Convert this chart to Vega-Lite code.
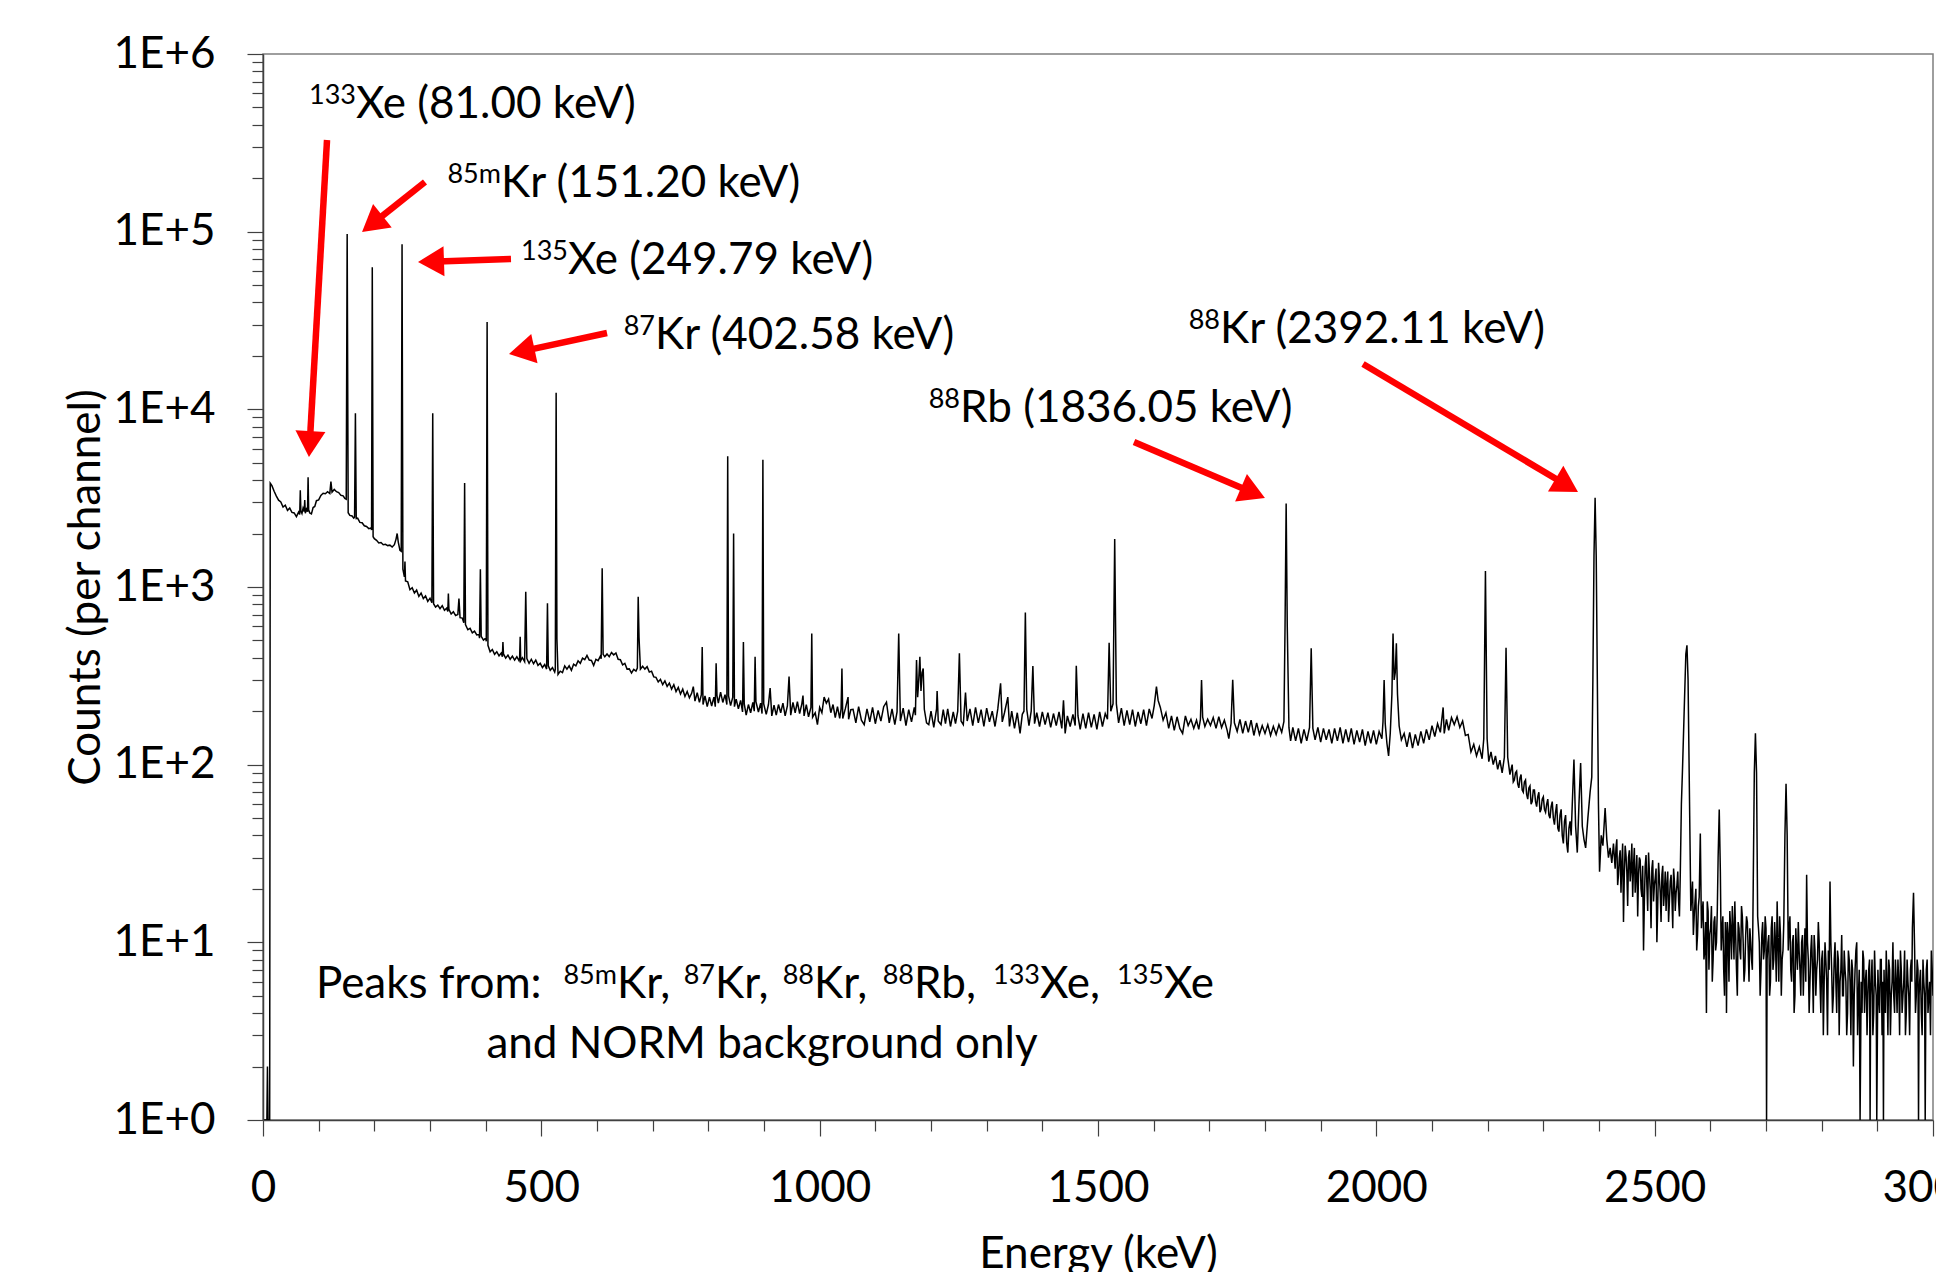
{
"$schema":"https://vega.github.io/schema/vega-lite/v6.json",
"width":1670,"height":1066,
"autosize":{"type":"none"},
"padding":{"left":263,"top":54,"right":3,"bottom":152},
"background":"white",
"config":{"view":{"stroke":"#7f7f7f","strokeWidth":1.5},"font":"Lato",
"axis":{"grid":false,"labelFont":"Lato","titleFont":"Lato","labelFontSize":44,"titleFontSize":44,"titleFontWeight":"normal","labelColor":"black","titleColor":"black","domainColor":"#404040","tickColor":"#404040","domainWidth":1.5,"tickWidth":1.2,"labelOverlap":false,"labelFlush":false}},
"resolve":{"axis":{"x":"independent","y":"independent"}},
"datasets":{
"spectrum":[
{"e":2,"c":1},{"e":7,"c":1},{"e":8,"c":2},{"e":9,"c":1},{"e":12,"c":1},{"e":13,"c":3840},
{"e":16,"c":3720},{"e":20,"c":3460},{"e":24,"c":3250},{"e":28,"c":3080},{"e":32,"c":3010},{"e":36,"c":2820},{"e":40,"c":2890},{"e":44,"c":2700},{"e":48,"c":2780},{"e":52,"c":2630},{"e":56,"c":2610},{"e":60,"c":2490},{"e":64,"c":2640},{"e":66,"c":2560},{"e":67,"c":3500},{"e":68,"c":2680},{"e":70,"c":2590},{"e":72,"c":2780},{"e":74,"c":2660},{"e":75,"c":3090},{"e":76,"c":2600},{"e":78,"c":2740},{"e":80,"c":2650},{"e":81,"c":4140},{"e":82,"c":2720},{"e":84,"c":2610},{"e":87,"c":2580},{"e":90,"c":2800},{"e":93,"c":2840},{"e":96,"c":3060},{"e":100,"c":3090},{"e":104,"c":3280},{"e":108,"c":3370},{"e":112,"c":3350},{"e":116,"c":3440},{"e":120,"c":3360},{"e":122,"c":3920},{"e":124,"c":3420},{"e":128,"c":3540},{"e":132,"c":3440},{"e":136,"c":3400},{"e":140,"c":3280},{"e":144,"c":3260},{"e":147,"c":3150},{"e":149.5,"c":3120},{"e":151.2,"c":97000},{"e":153,"c":2620},{"e":156,"c":2530},{"e":160,"c":2510},{"e":163,"c":2440},{"e":164.5,"c":2470},{"e":166,"c":9500},{"e":167.5,"c":2430},{"e":170,"c":2440},{"e":174,"c":2310},{"e":178,"c":2300},{"e":182,"c":2210},{"e":186,"c":2190},{"e":190,"c":2130},{"e":194,"c":2150},{"e":195,"c":2090},{"e":196.3,"c":63000},{"e":197.8,"c":1920},{"e":200,"c":1870},{"e":204,"c":1830},{"e":208,"c":1770},{"e":212,"c":1780},{"e":216,"c":1730},{"e":220,"c":1740},{"e":224,"c":1710},{"e":228,"c":1720},{"e":232,"c":1680},{"e":236,"c":1730},{"e":239,"c":1860},{"e":241,"c":2000},{"e":243,"c":1790},{"e":246,"c":1610},{"e":248.3,"c":1590},{"e":249.8,"c":85000},{"e":251.3,"c":1260},{"e":254,"c":1140},{"e":255,"c":1390},{"e":256,"c":1080},{"e":260,"c":1070},{"e":264,"c":965},{"e":268,"c":990},{"e":272,"c":925},{"e":276,"c":960},{"e":280,"c":885},{"e":284,"c":925},{"e":288,"c":860},{"e":292,"c":890},{"e":296,"c":830},{"e":300,"c":865},{"e":303.4,"c":815},{"e":304.9,"c":9500},{"e":306.4,"c":805},{"e":310,"c":770},{"e":314,"c":790},{"e":318,"c":755},{"e":322,"c":785},{"e":326,"c":740},{"e":330,"c":760},{"e":332,"c":728},{"e":333,"c":920},{"e":334,"c":748},{"e":338,"c":705},{"e":342,"c":725},{"e":346,"c":690},{"e":350,"c":700},{"e":352,"c":860},{"e":354,"c":672},{"e":358,"c":668},{"e":360.7,"c":630},{"e":362.2,"c":3850},{"e":363.7,"c":615},{"e":368,"c":575},{"e":372,"c":585},{"e":376,"c":552},{"e":380,"c":565},{"e":384,"c":538},{"e":388,"c":540},{"e":389,"c":515},{"e":390.5,"c":1260},{"e":392,"c":528},{"e":396,"c":502},{"e":400,"c":515},{"e":401.1,"c":495},{"e":402.6,"c":31000},{"e":404.1,"c":470},{"e":408,"c":432},{"e":412,"c":445},{"e":416,"c":418},{"e":420,"c":432},{"e":424,"c":410},{"e":428,"c":425},{"e":430,"c":405},{"e":431,"c":490},{"e":432,"c":420},{"e":436,"c":398},{"e":440,"c":414},{"e":444,"c":392},{"e":448,"c":408},{"e":452,"c":388},{"e":456,"c":405},{"e":460,"c":384},{"e":461,"c":400},{"e":462,"c":525},{"e":463,"c":385},{"e":466,"c":400},{"e":470,"c":380},{"e":472,"c":940},{"e":474,"c":395},{"e":478,"c":372},{"e":482,"c":392},{"e":486,"c":370},{"e":490,"c":388},{"e":494,"c":362},{"e":498,"c":372},{"e":502,"c":352},{"e":506,"c":366},{"e":509.5,"c":345},{"e":511,"c":810},{"e":512.5,"c":360},{"e":516,"c":340},{"e":520,"c":352},{"e":524,"c":332},{"e":525.1,"c":345},{"e":526.6,"c":12400},{"e":528,"c":510},{"e":530,"c":322},{"e":534,"c":336},{"e":538,"c":330},{"e":542,"c":360},{"e":546,"c":345},{"e":550,"c":360},{"e":554,"c":340},{"e":558,"c":368},{"e":562,"c":360},{"e":566,"c":384},{"e":570,"c":372},{"e":574,"c":398},{"e":578,"c":390},{"e":582,"c":412},{"e":586,"c":388},{"e":590,"c":386},{"e":594,"c":362},{"e":598,"c":392},{"e":602,"c":385},{"e":606,"c":408},{"e":607.5,"c":395},{"e":609.3,"c":1275},{"e":611,"c":418},{"e":614,"c":405},{"e":618,"c":420},{"e":622,"c":405},{"e":626,"c":428},{"e":630,"c":415},{"e":634,"c":425},{"e":638,"c":392},{"e":642,"c":390},{"e":646,"c":365},{"e":650,"c":372},{"e":654,"c":345},{"e":658,"c":346},{"e":662,"c":328},{"e":666,"c":344},{"e":670,"c":336},{"e":672.5,"c":350},{"e":674,"c":880},{"e":675.5,"c":520},{"e":678,"c":345},{"e":682,"c":358},{"e":686,"c":345},{"e":690,"c":356},{"e":694,"c":332},{"e":698,"c":336},{"e":702,"c":312},{"e":706,"c":310},
{"e":710,"c":292},{"e":714,"c":302},{"e":718,"c":282},{"e":722,"c":296},{"e":726,"c":276},{"e":730,"c":288},{"e":734,"c":266},{"e":738,"c":282},{"e":742,"c":258},{"e":746,"c":272},{"e":750,"c":250},{"e":754,"c":266},{"e":758,"c":242},{"e":762,"c":258},{"e":766,"c":238},{"e":770,"c":252},{"e":773,"c":275},{"e":776,"c":228},{"e":780,"c":254},{"e":784,"c":224},{"e":787.5,"c":248},{"e":789,"c":460},{"e":790.5,"c":218},{"e":794,"c":244},{"e":798,"c":212},{"e":802,"c":240},{"e":806,"c":214},{"e":810,"c":240},{"e":812.5,"c":212},{"e":814,"c":372},{"e":815.5,"c":245},{"e":818,"c":222},{"e":822,"c":256},{"e":826,"c":224},{"e":830,"c":248},{"e":833.3,"c":218},{"e":834.8,"c":5450},{"e":836.3,"c":244},{"e":840,"c":215},{"e":843.9,"c":240},{"e":845.4,"c":2000},{"e":846.9,"c":212},{"e":850,"c":234},{"e":854,"c":206},{"e":858,"c":230},{"e":861.5,"c":198},{"e":863,"c":490},{"e":864.5,"c":220},{"e":868,"c":190},{"e":872,"c":218},{"e":876,"c":196},{"e":880,"c":224},{"e":882.5,"c":200},{"e":884,"c":405},{"e":885.5,"c":226},{"e":890,"c":198},{"e":894,"c":222},{"e":896.5,"c":194},{"e":898,"c":5200},{"e":899.5,"c":220},{"e":904,"c":192},{"e":908,"c":218},{"e":911,"c":270},{"e":914,"c":188},{"e":918,"c":216},{"e":922,"c":190},{"e":926,"c":218},{"e":930,"c":196},{"e":934,"c":222},{"e":938,"c":188},{"e":942,"c":214},{"e":945,"c":313},{"e":948,"c":190},{"e":952,"c":224},{"e":956,"c":196},{"e":960,"c":226},{"e":964,"c":194},{"e":968,"c":220},{"e":970,"c":245},{"e":972,"c":188},{"e":976,"c":218},{"e":980,"c":186},{"e":984.3,"c":210},{"e":985.8,"c":548},{"e":987.3,"c":185},{"e":992,"c":196},{"e":996,"c":168},{"e":1000,"c":210},{"e":1004,"c":196},{"e":1008,"c":240},{"e":1012,"c":222},{"e":1016,"c":234},{"e":1020,"c":196},{"e":1024,"c":218},{"e":1028,"c":184},{"e":1032,"c":212},{"e":1036,"c":182},{"e":1038.5,"c":206},{"e":1040,"c":348},{"e":1041.5,"c":182},{"e":1046,"c":206},{"e":1051,"c":240},{"e":1052,"c":180},{"e":1056,"c":204},
{"e":1060,"c":205},{"e":1065,"c":172},{"e":1070,"c":212},{"e":1075,"c":178},{"e":1080,"c":168},{"e":1085,"c":206},{"e":1090,"c":174},{"e":1095,"c":210},{"e":1100,"c":170},{"e":1105,"c":202},{"e":1110,"c":176},{"e":1115,"c":212},{"e":1120,"c":225},{"e":1125,"c":172},{"e":1130,"c":206},{"e":1135,"c":168},{"e":1139,"c":198},{"e":1142,"c":548},{"e":1145,"c":176},{"e":1150,"c":208},{"e":1155,"c":166},{"e":1160,"c":204},{"e":1165,"c":174},{"e":1170,"c":210},{"e":1172,"c":190},{"e":1174,"c":388},{"e":1176,"c":240},{"e":1178,"c":300},{"e":1180,"c":405},{"e":1182,"c":260},{"e":1184,"c":330},{"e":1186,"c":348},{"e":1188,"c":205},{"e":1192,"c":172},{"e":1196,"c":168},{"e":1200,"c":200},{"e":1205,"c":162},{"e":1210,"c":206},{"e":1211,"c":260},{"e":1213,"c":176},{"e":1218,"c":168},{"e":1222,"c":204},{"e":1226,"c":170},{"e":1230,"c":206},{"e":1235,"c":164},{"e":1240,"c":198},{"e":1244,"c":170},{"e":1248,"c":200},{"e":1251,"c":423},{"e":1254,"c":176},{"e":1258,"c":168},{"e":1262,"c":255},{"e":1265,"c":176},{"e":1270,"c":206},{"e":1275,"c":166},{"e":1280,"c":210},{"e":1285,"c":172},{"e":1290,"c":204},{"e":1295,"c":164},{"e":1300,"c":208},{"e":1305,"c":174},{"e":1310,"c":200},{"e":1315,"c":164},{"e":1320,"c":206},{"e":1325,"c":287},{"e":1328,"c":174},{"e":1332,"c":196},{"e":1338,"c":240},{"e":1341,"c":164},{"e":1345,"c":200},{"e":1350,"c":160},{"e":1355,"c":196},{"e":1360,"c":150},{"e":1364,"c":192},{"e":1367,"c":200},{"e":1369.5,"c":718},{"e":1372,"c":205},{"e":1376,"c":166},{"e":1380,"c":200},{"e":1383,"c":359},{"e":1386,"c":170},{"e":1390,"c":196},{"e":1395,"c":164},{"e":1400,"c":198},{"e":1405,"c":168},{"e":1410,"c":196},{"e":1415,"c":162},{"e":1420,"c":194},{"e":1425,"c":166},{"e":1430,"c":198},{"e":1435,"c":160},{"e":1438,"c":230},{"e":1441,"c":150},{"e":1445,"c":188},{"e":1450,"c":164},{"e":1455,"c":192},{"e":1459,"c":166},{"e":1461,"c":360},{"e":1464,"c":188},{"e":1468,"c":158},{"e":1473,"c":194},{"e":1478,"c":160},{"e":1483,"c":196},{"e":1488,"c":162},{"e":1493,"c":192},{"e":1498,"c":158},{"e":1503,"c":198},{"e":1508,"c":164},{"e":1513,"c":194},{"e":1517,"c":180},{"e":1520,"c":486},{"e":1523,"c":200},{"e":1527,"c":220},{"e":1530,"c":1860},{"e":1533,"c":220},{"e":1537,"c":172},{"e":1542,"c":208},{"e":1547,"c":166},{"e":1552,"c":202},{"e":1557,"c":168},{"e":1562,"c":204},{"e":1567,"c":164},{"e":1572,"c":198},{"e":1577,"c":170},{"e":1582,"c":204},{"e":1587,"c":166},{"e":1592,"c":206},{"e":1597,"c":182},{"e":1601,"c":215},{"e":1605,"c":275},{"e":1608,"c":230},{"e":1612,"c":210},{"e":1617,"c":178},{"e":1622,"c":196},{"e":1627,"c":160},{"e":1632,"c":188},{"e":1637,"c":156},{"e":1642,"c":186},{"e":1647,"c":160},{"e":1652,"c":150},{"e":1657,"c":188},{"e":1662,"c":166},{"e":1667,"c":180},{"e":1672,"c":160},{"e":1677,"c":178},{"e":1681,"c":158},{"e":1684,"c":180},{"e":1686,"c":300},{"e":1688,"c":185},{"e":1692,"c":164},{"e":1697,"c":180},{"e":1702,"c":166},{"e":1707,"c":184},{"e":1712,"c":160},{"e":1717,"c":186},{"e":1722,"c":162},{"e":1727,"c":178},{"e":1732,"c":156},{"e":1735,"c":140},{"e":1739,"c":170},{"e":1742,"c":300},{"e":1745,"c":172},{"e":1750,"c":154},{"e":1755,"c":180},{"e":1760,"c":150},{"e":1765,"c":176},{"e":1770,"c":152},{"e":1775,"c":178},{"e":1780,"c":146},{"e":1785,"c":172},{"e":1790,"c":148},{"e":1795,"c":166},{"e":1800,"c":150},{"e":1805,"c":168},{"e":1810,"c":146},{"e":1815,"c":164},{"e":1820,"c":148},{"e":1825,"c":168},{"e":1830,"c":152},{"e":1834,"c":175},{"e":1836,"c":600},{"e":1838,"c":2950},{"e":1840,"c":600},{"e":1843,"c":162},{"e":1846,"c":136},{"e":1850,"c":162},{"e":1855,"c":136},{"e":1860,"c":160},{"e":1865,"c":132},{"e":1870,"c":158},{"e":1875,"c":136},{"e":1880,"c":162},{"e":1883,"c":452},{"e":1886,"c":160},{"e":1890,"c":138},{"e":1895,"c":162},{"e":1900,"c":134},{"e":1905,"c":160},{"e":1910,"c":138},{"e":1915,"c":158},{"e":1920,"c":132},{"e":1925,"c":160},{"e":1930,"c":136},{"e":1935,"c":162},{"e":1940,"c":132},{"e":1945,"c":158},{"e":1950,"c":134},{"e":1955,"c":160},{"e":1960,"c":130},{"e":1965,"c":156},{"e":1970,"c":134},{"e":1975,"c":158},{"e":1980,"c":128},{"e":1985,"c":154},{"e":1990,"c":132},{"e":1995,"c":156},{"e":2000,"c":130},{"e":2005,"c":154},{"e":2010,"c":140},{"e":2012,"c":175},{"e":2014,"c":300},{"e":2016,"c":170},{"e":2019,"c":132},{"e":2022,"c":112},{"e":2025,"c":150},{"e":2028,"c":250},{"e":2030,"c":548},{"e":2032,"c":300},{"e":2034,"c":330},{"e":2036,"c":482},{"e":2038,"c":250},{"e":2041,"c":165},{"e":2045,"c":138},{"e":2050,"c":150},{"e":2055,"c":126},{"e":2060,"c":152},{"e":2065,"c":124},{"e":2070,"c":148},{"e":2075,"c":128},{"e":2080,"c":154},{"e":2085,"c":132},{"e":2090,"c":158},{"e":2095,"c":138},{"e":2100,"c":166},{"e":2105,"c":144},{"e":2110,"c":170},{"e":2115,"c":152},{"e":2120,"c":210},{"e":2122,"c":150},{"e":2126,"c":180},{"e":2130,"c":156},{"e":2135,"c":184},{"e":2140,"c":168},{"e":2145,"c":186},{"e":2150,"c":162},{"e":2155,"c":176},{"e":2160,"c":146},{"e":2165,"c":148},{"e":2170,"c":118},{"e":2175,"c":130},{"e":2180,"c":112},{"e":2185,"c":126},{"e":2190,"c":108},{"e":2193,"c":140},{"e":2196,"c":1230},{"e":2199,"c":140},{"e":2202,"c":104},{"e":2206,"c":118},{"e":2210,"c":100},{"e":2214,"c":112},{"e":2218,"c":94},{"e":2222,"c":106},{"e":2226,"c":90},{"e":2230,"c":110},{"e":2233,"c":455},{"e":2236,"c":110},{"e":2240,"c":88},{"e":2242,"c":94},{"e":2244,"c":100},{"e":2246,"c":80},{"e":2248,"c":82},{"e":2250,"c":90},{"e":2252,"c":92},{"e":2254,"c":78},{"e":2256,"c":74},{"e":2258,"c":84},{"e":2260,"c":88},{"e":2262,"c":72},{"e":2264,"c":70},{"e":2266,"c":80},{"e":2268,"c":82},{"e":2270,"c":68},{"e":2272,"c":64},{"e":2274,"c":74},{"e":2276,"c":76},{"e":2278,"c":60},{"e":2280,"c":62},{"e":2282,"c":72},{"e":2284,"c":72},{"e":2286,"c":62},{"e":2288,"c":58},{"e":2290,"c":66},{"e":2292,"c":70},{"e":2294,"c":54},{"e":2296,"c":56},{"e":2298,"c":64},{"e":2300,"c":66},{"e":2302,"c":56},{"e":2304,"c":54},{"e":2306,"c":60},{"e":2308,"c":64},{"e":2310,"c":52},{"e":2312,"c":50},{"e":2314,"c":58},{"e":2316,"c":62},{"e":2318,"c":50},{"e":2320,"c":46},{"e":2322,"c":54},{"e":2324,"c":60},{"e":2326,"c":44},{"e":2328,"c":42},{"e":2330,"c":52},{"e":2332,"c":56},{"e":2334,"c":40},{"e":2336,"c":36},{"e":2338,"c":48},{"e":2340,"c":52},{"e":2342,"c":36},{"e":2344,"c":32},{"e":2346,"c":44},{"e":2348,"c":48},{"e":2350,"c":40},{"e":2352,"c":60},{"e":2355,"c":107},{"e":2358,"c":45},{"e":2361,"c":32},{"e":2364,"c":60},{"e":2367,"c":102},{"e":2370,"c":45},{"e":2373,"c":38},{"e":2376,"c":34},{"e":2380,"c":50},{"e":2384,"c":70},{"e":2387,"c":85},{"e":2389,"c":300},{"e":2391,"c":1500},{"e":2393,"c":3180},{"e":2395,"c":1500},{"e":2397,"c":300},{"e":2399,"c":60},{"e":2401,"c":25},{"e":2404,"c":40},{"e":2407,"c":35},{"e":2411,"c":57},{"e":2414,"c":38},{"e":2417,"c":30},{"e":2420,"c":34},{"e":2423,"c":28},{"e":2426,"c":36},
{"e":2429,"c":26},{"e":2430.5,"c":34},{"e":2432,"c":38},{"e":2433.5,"c":21},{"e":2435,"c":24},{"e":2436.5,"c":30},{"e":2438,"c":33},{"e":2439.5,"c":19},{"e":2441,"c":28},{"e":2442.5,"c":36},{"e":2444,"c":13},{"e":2445.5,"c":24},{"e":2447,"c":35},{"e":2448.5,"c":31},{"e":2450,"c":25},{"e":2451.5,"c":16},{"e":2453,"c":30},{"e":2454.5,"c":33},{"e":2456,"c":22},{"e":2457.5,"c":26},{"e":2459,"c":36},{"e":2460.5,"c":18},{"e":2462,"c":27},{"e":2463.5,"c":34},{"e":2465,"c":19},{"e":2466.5,"c":24},{"e":2468,"c":31},{"e":2469.5,"c":14},{"e":2471,"c":24},{"e":2472.5,"c":30},{"e":2474,"c":29},{"e":2475.5,"c":20},{"e":2477,"c":18},{"e":2478.5,"c":27},{"e":2480,"c":9},{"e":2481.5,"c":17},{"e":2483,"c":27},{"e":2484.5,"c":31},{"e":2486,"c":21},{"e":2487.5,"c":15},{"e":2489,"c":32},{"e":2490.5,"c":25},{"e":2492,"c":20},{"e":2493.5,"c":12},{"e":2495,"c":26},{"e":2496.5,"c":29},{"e":2498,"c":17},{"e":2499.5,"c":21},{"e":2501,"c":23},{"e":2502.5,"c":26},{"e":2504,"c":10},{"e":2505.5,"c":16},{"e":2507,"c":28},{"e":2508.5,"c":23},{"e":2510,"c":19},{"e":2511.5,"c":13},{"e":2513,"c":24},{"e":2514.5,"c":27},{"e":2516,"c":16},{"e":2517.5,"c":19},{"e":2519,"c":25},{"e":2520.5,"c":15},{"e":2522,"c":21},{"e":2523.5,"c":25},{"e":2525,"c":13},{"e":2526.5,"c":17},{"e":2528,"c":22},{"e":2529.5,"c":24},{"e":2531,"c":18},{"e":2532.5,"c":12},{"e":2534,"c":26},{"e":2535.5,"c":22},{"e":2537,"c":15},{"e":2538.5,"c":19},{"e":2540,"c":21},{"e":2541.5,"c":25},{"e":2543,"c":17},{"e":2544.5,"c":14},{"e":2546,"c":24},{"e":2548,"c":60},{"e":2550,"c":94},{"e":2553,"c":200},{"e":2556,"c":420},{"e":2558,"c":470},{"e":2560,"c":300},{"e":2562,"c":90},{"e":2565,"c":15},{"e":2566.5,"c":18},{"e":2568,"c":22},{"e":2569.5,"c":11},{"e":2571,"c":14},{"e":2572.5,"c":17},{"e":2574,"c":20},{"e":2575.5,"c":9},{"e":2577,"c":11},{"e":2578.5,"c":16},{"e":2580,"c":18},{"e":2582,"c":41},{"e":2584,"c":12},{"e":2585.5,"c":15},{"e":2587,"c":17},{"e":2588.5,"c":8},{"e":2590,"c":9},{"e":2591.5,"c":13},{"e":2593,"c":4},{"e":2594.5,"c":17},{"e":2596,"c":15},{"e":2597.5,"c":7},{"e":2599,"c":11},{"e":2600.5,"c":12},{"e":2602,"c":16},{"e":2603.5,"c":6},{"e":2605,"c":8},{"e":2606.5,"c":13},{"e":2608,"c":14},{"e":2609.5,"c":9},{"e":2611,"c":10},{"e":2612.5,"c":15},{"e":2614,"c":30},{"e":2616,"c":56},{"e":2618,"c":25},{"e":2619.5,"c":9},{"e":2621,"c":12},{"e":2622.5,"c":14},{"e":2624,"c":7},{"e":2625.5,"c":5},{"e":2627,"c":13},{"e":2628.5,"c":10},{"e":2629,"c":4},{"e":2630.5,"c":13},{"e":2632,"c":11},{"e":2633.5,"c":6},{"e":2635,"c":15},{"e":2636.5,"c":12},{"e":2638,"c":8},{"e":2639.5,"c":16},{"e":2641,"c":12},{"e":2642.5,"c":8},{"e":2644,"c":17},{"e":2645.5,"c":11},{"e":2647,"c":7},{"e":2648.5,"c":5},{"e":2650,"c":13},{"e":2651.5,"c":12},{"e":2653,"c":9},{"e":2654.5,"c":8},{"e":2656,"c":16},{"e":2657.5,"c":14},{"e":2659,"c":10},{"e":2660.5,"c":6},{"e":2662,"c":7},{"e":2663.5,"c":11},{"e":2665,"c":14},{"e":2666.5,"c":13},{"e":2668,"c":9},{"e":2669.5,"c":6},{"e":2671,"c":12},{"e":2672.5,"c":10},{"e":2674,"c":8},{"e":2675.5,"c":7},{"e":2677,"c":20},{"e":2679,"c":90},{"e":2681,"c":150},{"e":2683,"c":90},{"e":2685,"c":14},{"e":2686.5,"c":12},{"e":2688,"c":10},{"e":2689.5,"c":5},{"e":2691,"c":7},{"e":2692.5,"c":11},{"e":2694,"c":13},{"e":2695.5,"c":8},{"e":2697,"c":9},{"e":2698.5,"c":14},{"e":2700,"c":12},{"e":2701,"c":1},{"e":2702,"c":8},{"e":2703.5,"c":10},{"e":2705,"c":11},{"e":2706.5,"c":5},{"e":2708,"c":6},{"e":2709.5,"c":12},{"e":2711,"c":14},{"e":2712.5,"c":7},{"e":2714,"c":8},{"e":2715.5,"c":13},{"e":2717,"c":10},{"e":2718.5,"c":6},{"e":2720,"c":17},{"e":2721.5,"c":10},{"e":2723,"c":6},{"e":2724.5,"c":14},{"e":2726,"c":11},{"e":2727.5,"c":5},{"e":2729,"c":8},{"e":2730.5,"c":9},{"e":2732,"c":13},{"e":2734,"c":40},{"e":2736,"c":78},{"e":2738,"c":40},{"e":2740,"c":9},{"e":2741.5,"c":12},{"e":2743,"c":14},{"e":2744.5,"c":7},{"e":2746,"c":6},{"e":2747.5,"c":10},{"e":2749,"c":11},{"e":2750.5,"c":4},{"e":2752,"c":5},{"e":2753.5,"c":12},{"e":2755,"c":9},{"e":2756.5,"c":7},{"e":2758,"c":13},{"e":2759.5,"c":9},{"e":2761,"c":7},{"e":2762.5,"c":5},{"e":2764,"c":10},{"e":2765.5,"c":11},{"e":2767,"c":5},{"e":2768.5,"c":8},{"e":2770,"c":12},{"e":2771.5,"c":6},{"e":2773,"c":24},{"e":2774.5,"c":10},{"e":2776,"c":8},{"e":2777.5,"c":4},{"e":2779,"c":6},{"e":2780.5,"c":9},{"e":2782,"c":11},{"e":2783.5,"c":7},{"e":2785,"c":4},{"e":2786.5,"c":11},{"e":2788,"c":9},{"e":2789.5,"c":5},{"e":2791,"c":7},{"e":2792.5,"c":8},{"e":2794,"c":13},{"e":2795.5,"c":10},{"e":2797,"c":6},{"e":2798.5,"c":4},{"e":2800,"c":8},{"e":2801.5,"c":9},{"e":2803,"c":3},{"e":2804.5,"c":6},{"e":2806,"c":10},{"e":2807.5,"c":8},{"e":2809,"c":6},{"e":2810.5,"c":3},{"e":2812,"c":9},{"e":2813.5,"c":7},{"e":2815,"c":22},{"e":2816.5,"c":10},{"e":2818,"c":7},{"e":2819.5,"c":4},{"e":2821,"c":5},{"e":2822.5,"c":8},{"e":2824,"c":10},{"e":2825.5,"c":6},{"e":2827,"c":4},{"e":2828.5,"c":9},{"e":2830,"c":8},{"e":2831.5,"c":3},{"e":2833,"c":6},{"e":2834.5,"c":7},{"e":2836,"c":11},{"e":2837.5,"c":5},{"e":2839,"c":5},{"e":2840.5,"c":9},{"e":2842,"c":7},{"e":2843.5,"c":6},{"e":2845,"c":3},{"e":2846.5,"c":4},{"e":2848,"c":9},{"e":2849.5,"c":8},{"e":2851,"c":6},{"e":2852.5,"c":3},{"e":2854,"c":8},{"e":2855.5,"c":7},{"e":2857,"c":2},{"e":2858.5,"c":5},{"e":2860,"c":7},{"e":2861.5,"c":9},{"e":2863,"c":10},{"e":2864.5,"c":3},{"e":2866,"c":5},{"e":2867.5,"c":7},{"e":2869,"c":1},{"e":2871,"c":6},{"e":2872.5,"c":4},{"e":2874,"c":9},{"e":2875.5,"c":8},{"e":2877,"c":4},{"e":2878.5,"c":6},{"e":2880,"c":7},{"e":2881.5,"c":3},{"e":2883,"c":5},{"e":2884.5,"c":7},{"e":2886,"c":8},{"e":2887,"c":1},{"e":2888,"c":5},{"e":2889,"c":6},{"e":2890.5,"c":8},{"e":2892,"c":3},{"e":2893.5,"c":4},{"e":2895,"c":9},{"e":2896.5,"c":6},{"e":2898,"c":5},{"e":2899,"c":1},{"e":2901,"c":7},{"e":2902.5,"c":5},{"e":2904,"c":4},{"e":2905.5,"c":8},{"e":2907,"c":8},{"e":2908.5,"c":3},{"e":2910,"c":6},{"e":2911,"c":1},{"e":2912,"c":7},{"e":2913,"c":5},{"e":2914.5,"c":4},{"e":2916,"c":9},{"e":2917.5,"c":6},{"e":2919,"c":3},{"e":2920.5,"c":8},{"e":2922,"c":7},{"e":2923.5,"c":3},{"e":2925,"c":5},{"e":2926.5,"c":6},{"e":2928,"c":10},{"e":2929.5,"c":5},{"e":2931,"c":4},{"e":2932.5,"c":8},{"e":2934,"c":6},{"e":2935.5,"c":4},{"e":2937,"c":8},{"e":2938.5,"c":6},{"e":2940,"c":3},{"e":2941.5,"c":9},{"e":2943,"c":7},{"e":2944.5,"c":4},{"e":2946,"c":5},{"e":2947.5,"c":6},{"e":2949,"c":9},{"e":2950.5,"c":3},{"e":2952,"c":4},{"e":2953.5,"c":8},{"e":2955,"c":6},{"e":2956.5,"c":5},{"e":2958,"c":3},{"e":2959.5,"c":7},{"e":2961,"c":8},{"e":2962,"c":6},{"e":2963,"c":12},{"e":2965,"c":19},{"e":2967,"c":9},{"e":2968.5,"c":4},{"e":2970,"c":5},{"e":2971.5,"c":8},{"e":2973,"c":7},{"e":2974,"c":1},{"e":2975,"c":5},{"e":2976,"c":6},{"e":2977.5,"c":7},{"e":2979,"c":4},{"e":2980.5,"c":3},{"e":2982,"c":8},{"e":2983.5,"c":6},{"e":2985,"c":5},{"e":2986,"c":1},{"e":2987,"c":4},{"e":2988,"c":7},{"e":2989.5,"c":8},{"e":2991,"c":4},{"e":2992.5,"c":5},{"e":2994,"c":6},{"e":2995.5,"c":3},{"e":2997,"c":9},{"e":2998.5,"c":7},{"e":3000,"c":5}
],
"arrows":[
{"x1":115.0,"y1":328100,"x2":84.6,"y2":6988,"hx":83.9,"hy":6381,"angle":183.25},
{"x1":291.0,"y1":190300,"x2":206.0,"y2":116900,"hx":196.2,"hy":110600,"angle":231.56},
{"x1":445.5,"y1":70190,"x2":314.4,"y2":68040,"hx":301.8,"hy":67860,"angle":268.15},
{"x1":618.0,"y1":26890,"x2":477.1,"y2":21630,"hx":464.7,"hy":21210,"angle":257.9},
{"x1":1564.7,"y1":6549,"x2":1767.0,"y2":3511,"hx":1778.4,"hy":3386,"angle":113.15},
{"x1":1976.1,"y1":17996,"x2":2331.4,"y2":3910,"hx":2342.2,"hy":3737,"angle":120.77}
],
"labels":[
{"x":167.1,"y":436100,"t":"Xe (81.00 keV)","role":"main"},
{"x":167.1,"y":436100,"t":"133","role":"sup"},
{"x":427.5,"y":156750,"t":"Kr (151.20 keV)","role":"main"},
{"x":427.5,"y":156750,"t":"85m","role":"sup"},
{"x":547.9,"y":57770,"t":"Xe (249.79 keV)","role":"main"},
{"x":547.9,"y":57770,"t":"135","role":"sup"},
{"x":704.2,"y":21860,"t":"Kr (402.58 keV)","role":"main"},
{"x":704.2,"y":21860,"t":"87","role":"sup"},
{"x":1719.2,"y":23630,"t":"Kr (2392.11 keV)","role":"main"},
{"x":1719.2,"y":23630,"t":"88","role":"sup"},
{"x":1252.1,"y":8486,"t":"Rb (1836.05 keV)","role":"main"},
{"x":1252.1,"y":8486,"t":"88","role":"sup"},
{"x":95.0,"y":4.862,"t":"Peaks from:","role":"main"},
{"x":635.9,"y":4.862,"t":"85m","role":"sup"},
{"x":635.9,"y":4.862,"t":"Kr,","role":"main"},
{"x":812.0,"y":4.862,"t":"87","role":"sup"},
{"x":812.0,"y":4.862,"t":"Kr,","role":"main"},
{"x":989.8,"y":4.862,"t":"88","role":"sup"},
{"x":989.8,"y":4.862,"t":"Kr,","role":"main"},
{"x":1169.5,"y":4.862,"t":"88","role":"sup"},
{"x":1169.5,"y":4.862,"t":"Rb,","role":"main"},
{"x":1395.8,"y":4.862,"t":"133","role":"sup"},
{"x":1395.8,"y":4.862,"t":"Xe,","role":"main"},
{"x":1618.6,"y":4.862,"t":"135","role":"sup"},
{"x":1618.6,"y":4.862,"t":"Xe","role":"main"},
{"x":896.4,"y":2.233,"t":"and NORM background only","role":"center"}
]
},
"layer":[
{"data":{"name":"spectrum"},
 "mark":{"type":"line","color":"black","strokeWidth":1.5,"clip":true},
 "encoding":{
  "x":{"field":"e","type":"quantitative","scale":{"domain":[0,3000],"nice":false,"zero":false},
   "axis":{"title":"Energy (keV)","values":[0,100,200,300,400,500,600,700,800,900,1000,1100,1200,1300,1400,1500,1600,1700,1800,1900,2000,2100,2200,2300,2400,2500,2600,2700,2800,2900,3000],"format":"d","labelExpr":"datum.value % 500 === 0 ? datum.label : ''","tickSize":{"condition":{"test":"datum.value % 500 === 0","value":16},"value":11},"labelPadding":30,"titlePadding":22}},
  "y":{"field":"c","type":"quantitative","scale":{"type":"log","domain":[1,1000000],"nice":false},
   "axis":{"title":"Counts (per channel)","values":[1,2,3,4,5,6,7,8,9,10,20,30,40,50,60,70,80,90,100,200,300,400,500,600,700,800,900,1000,2000,3000,4000,5000,6000,7000,8000,9000,10000,20000,30000,40000,50000,60000,70000,80000,90000,100000,200000,300000,400000,500000,600000,700000,800000,900000,1000000],"labelExpr":"indexof([1,10,100,1000,10000,100000,1000000], datum.value) >= 0 ? '1E+' + round(log(datum.value)/LN10) : ''","tickSize":{"condition":{"test":"indexof([1,10,100,1000,10000,100000,1000000], datum.value) >= 0","value":16},"value":11},"labelPadding":32,"titlePadding":5}}
 }},
{"data":{"name":"arrows"},
 "mark":{"type":"rule","color":"#ff0000","strokeWidth":6.5},
 "encoding":{"x":{"field":"x1","type":"quantitative","axis":null},"y":{"field":"y1","type":"quantitative","axis":null},"x2":{"field":"x2"},"y2":{"field":"y2"}}},
{"data":{"name":"arrows"},
 "mark":{"type":"point","shape":"triangle-up","filled":true,"color":"#ff0000","size":900,"opacity":1,"strokeWidth":0},
 "encoding":{"x":{"field":"hx","type":"quantitative","axis":null},"y":{"field":"hy","type":"quantitative","axis":null},"angle":{"field":"angle","type":"quantitative","scale":null}}},
{"data":{"name":"labels"},"transform":[{"filter":"datum.role === 'main'"}],
 "mark":{"type":"text","align":"left","baseline":"alphabetic","fontSize":44,"font":"Lato","color":"black"},
 "encoding":{"x":{"field":"x","type":"quantitative","axis":null},"y":{"field":"y","type":"quantitative","axis":null},"text":{"field":"t"}}},
{"data":{"name":"labels"},"transform":[{"filter":"datum.role === 'sup'"}],
 "mark":{"type":"text","align":"right","baseline":"alphabetic","fontSize":27,"dy":-14,"font":"Lato","color":"black"},
 "encoding":{"x":{"field":"x","type":"quantitative","axis":null},"y":{"field":"y","type":"quantitative","axis":null},"text":{"field":"t"}}},
{"data":{"name":"labels"},"transform":[{"filter":"datum.role === 'center'"}],
 "mark":{"type":"text","align":"center","baseline":"alphabetic","fontSize":44,"font":"Lato","color":"black"},
 "encoding":{"x":{"field":"x","type":"quantitative","axis":null},"y":{"field":"y","type":"quantitative","axis":null},"text":{"field":"t"}}}
]
}
